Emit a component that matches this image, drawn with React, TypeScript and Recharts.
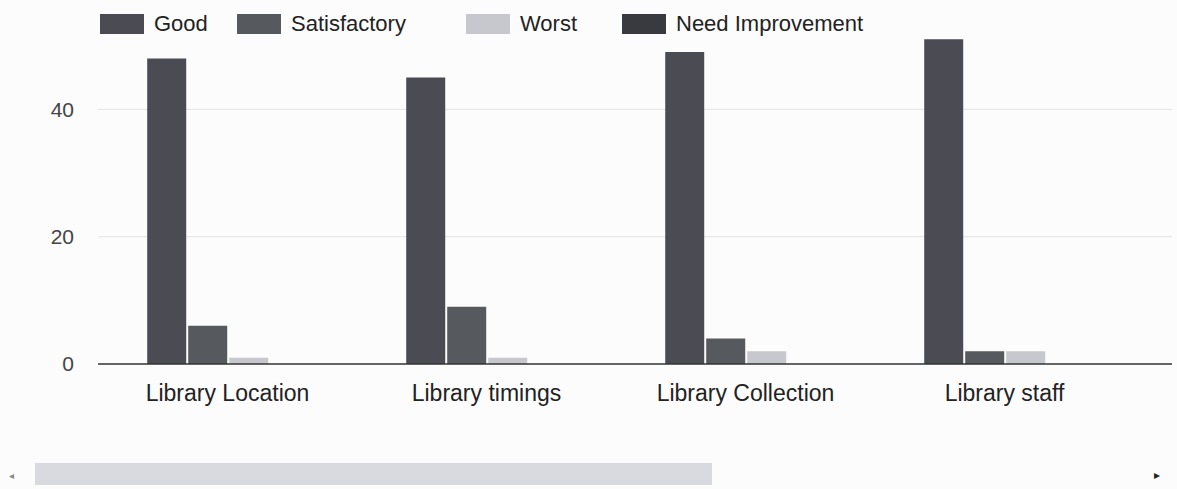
import React from 'react';
import { BarChart, Bar, XAxis, YAxis, CartesianGrid } from 'recharts';

const categories = ['Library Location', 'Library timings', 'Library Collection', 'Library staff'];
const good = [48, 45, 49, 51];
const satisfactory = [6, 9, 4, 2];
const worst = [1, 1, 2, 2];
const needImprovement = [0, 0, 0, 0];
const yTicks = [0, 20, 40];

const SERIES = [
    { key: 'good', name: 'Good', color: '#4b4b53' },
    { key: 'satisfactory', name: 'Satisfactory', color: '#56595e' },
    { key: 'worst', name: 'Worst', color: '#c6c8cd' },
    { key: 'needImprovement', name: 'Need Improvement', color: '#393940' },
];

const data = categories.map((name, i) => ({
    name,
    good: good[i],
    satisfactory: satisfactory[i],
    worst: worst[i],
    needImprovement: needImprovement[i],
}));

const FONT = '"Liberation Sans", Arial, sans-serif';
const legendX = [100, 237, 466, 622];

export default function App() {
    return (
        <div style={{ position: 'absolute', left: 0, top: 0, width: 1177, height: 489, background: '#fcfcfc', fontFamily: FONT }}>
            {/* legend */}
            {SERIES.map((s, i) => (
                <div key={s.key} style={{ position: 'absolute', left: legendX[i], top: 14, height: 20, display: 'flex', alignItems: 'center' }}>
                    <div style={{ width: 44, height: 20, background: s.color }} />
                    <span style={{ marginLeft: 10, fontSize: 22, color: '#222', lineHeight: '20px' }}>{s.name}</span>
                </div>
            ))}

            <BarChart
                width={1177}
                height={489}
                data={data}
                margin={{ top: 33, right: 5, left: 0, bottom: 0 }}
                barCategoryGap="19%"
                barGap={2}
                style={{ position: 'absolute', left: 0, top: 0 }}
            >
                <CartesianGrid vertical={false} stroke="#e3e3e3" horizontalValues={[20, 40]} />
                <XAxis
                    dataKey="name"
                    height={125}
                    tickLine={false}
                    tickSize={0}
                    tickMargin={21}
                    padding={{ left: 0, right: 38 }}
                    axisLine={{ stroke: '#333', strokeWidth: 1.5 }}
                    tick={{ fontSize: 23, fill: '#222', fontFamily: FONT }}
                    interval={0}
                />
                <YAxis
                    width={98}
                    domain={[0, 52]}
                    ticks={yTicks}
                    axisLine={false}
                    tickLine={false}
                    tickSize={0}
                    tickMargin={24}
                    tick={{ fontSize: 21, fill: '#444', fontFamily: FONT }}
                />
                {SERIES.map((s) => (
                    <Bar key={s.key} dataKey={s.key} name={s.name} fill={s.color} isAnimationActive={false} />
                ))}
            </BarChart>

            {/* scroll bar */}
            <div style={{ position: 'absolute', left: 35, top: 463, width: 677, height: 22, background: '#d9dadf' }} />
            <div style={{ position: 'absolute', left: 9, top: 470, fontSize: 10, color: '#888' }}>◂</div>
            <div style={{ position: 'absolute', left: 1154, top: 468, fontSize: 12, color: '#222' }}>▸</div>
        </div>
    );
}
